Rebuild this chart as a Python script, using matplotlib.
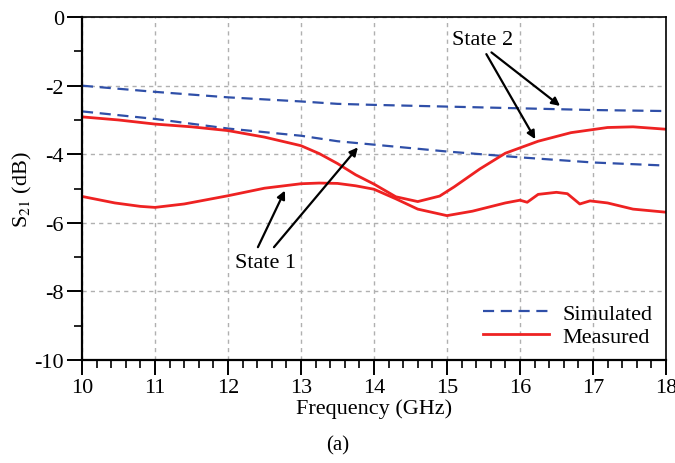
import matplotlib.pyplot as plt
from matplotlib.ticker import MultipleLocator

plt.rcParams['font.family'] = ['Liberation Serif', 'DejaVu Serif']
plt.rcParams['mathtext.fontset'] = 'stix'
plt.rcParams['axes.unicode_minus'] = False

# simulated curves (GHz, dB)
sim_f = [10, 11, 12, 13, 13.5, 14, 15, 16, 17, 18]
sim_state2 = [-2.0, -2.18, -2.34, -2.46, -2.53, -2.56, -2.61, -2.66, -2.71, -2.74]
sim_state1 = [-2.75, -2.97, -3.25, -3.46, -3.62, -3.72, -3.92, -4.09, -4.24, -4.33]

# measured curves
meas2_f = [10, 10.5, 11, 11.5, 12, 12.5, 13, 13.25, 13.5, 13.75, 14, 14.3, 14.6, 14.9,
           15.1, 15.45, 15.8, 16.25, 16.7, 17.2, 17.55, 18]
meas2 = [-2.91, -3.0, -3.12, -3.2, -3.31, -3.5, -3.75, -3.98, -4.27, -4.6, -4.87, -5.24,
         -5.38, -5.22, -4.95, -4.43, -3.97, -3.62, -3.37, -3.22, -3.2, -3.27]

meas1_f = [10, 10.45, 10.8, 11.0, 11.4, 12, 12.5, 13, 13.25, 13.5, 13.75, 14, 14.3, 14.6,
           15.0, 15.35, 15.8, 16.0, 16.1, 16.25, 16.5, 16.65, 16.82, 16.96, 17.2, 17.55, 18]
meas1 = [-5.23, -5.42, -5.52, -5.55, -5.45, -5.21, -4.99, -4.86, -4.84, -4.85, -4.92, -5.02,
         -5.3, -5.6, -5.79, -5.66, -5.42, -5.34, -5.4, -5.17, -5.11, -5.15, -5.45, -5.36,
         -5.42, -5.6, -5.69]

red = '#ee2222'
blue = '#2f4fa8'

fig = plt.figure(figsize=(6.75, 4.64), dpi=100)
ax = fig.add_axes([0.1215, 0.222, 0.865, 0.739])

ax.plot(sim_f, sim_state2, color=blue, lw=1.6, ls=(0, (5, 3)), label='Simulated')
ax.plot(sim_f, sim_state1, color=blue, lw=1.6, ls=(0, (5, 3)))
ax.plot(meas1_f, meas1, color=red, lw=2.0, label='Measured')
ax.plot(meas2_f, meas2, color=red, lw=2.0)

ax.set_xlim(10, 18)
ax.set_ylim(-10, 0)
ax.xaxis.set_major_locator(MultipleLocator(1))
ax.xaxis.set_minor_locator(MultipleLocator(0.2))
ax.yaxis.set_major_locator(MultipleLocator(2))
ax.yaxis.set_minor_locator(MultipleLocator(1))
ax.tick_params(which='major', direction='out', length=11, width=1.4, labelsize=16, pad=2)
ax.tick_params(which='minor', direction='out', length=5.5, width=1.2)
ax.tick_params(top=False, right=False, which='both')

ax.grid(True, which='major', color='#b0b0b0', ls=(0, (3, 3)), lw=1)
for s in ['left', 'bottom']:
    ax.spines[s].set_linewidth(1.6)
for s in ['top', 'right']:
    ax.spines[s].set_linewidth(1.2)

ax.set_xlabel('Frequency (GHz)', fontsize=16, labelpad=1)
ax.set_ylabel('S$_{21}$ (dB)', fontsize=16, labelpad=0)

arrow = dict(arrowstyle='-|>', color='black', lw=1.6, mutation_scale=12, shrinkA=0, shrinkB=0)
ax.annotate('', xy=(12.78, -5.06), xytext=(12.41, -6.71), arrowprops=arrow)
ax.annotate('', xy=(13.78, -3.80), xytext=(12.63, -6.71), arrowprops=arrow)
ax.text(12.51, -7.15, 'State 1', fontsize=16, ha='center', va='center')
ax.annotate('', xy=(16.55, -2.59), xytext=(15.61, -1.03), arrowprops=arrow)
ax.annotate('', xy=(16.21, -3.56), xytext=(15.54, -1.08), arrowprops=arrow)
ax.text(15.49, -0.64, 'State 2', fontsize=16, ha='center', va='center')

ax.legend(loc='lower right', frameon=False, fontsize=16, handlelength=3.0,
          handletextpad=0.6, labelspacing=0.1, borderaxespad=0.2)

fig.text(0.5, 0.039, '(a)', fontsize=15, ha='center', va='center')

fig.savefig('out.png', dpi=100)
